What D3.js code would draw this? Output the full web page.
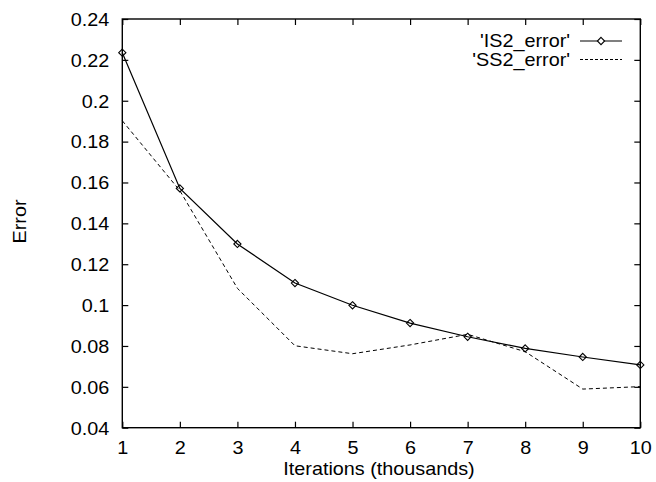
<!DOCTYPE html>
<html>
<head>
<meta charset="utf-8">
<script src="https://cdn.jsdelivr.net/npm/d3@7"></script>
<style>
    body { margin: 0; background: #fff; }
    svg { display: block; }
    text { font-family: "Liberation Sans", Arial, Helvetica, sans-serif; font-size: 18px; fill: #000; }
    .domain { display: none; }
    .tick line { stroke: #000; stroke-width: 1.2; }
</style>
</head>
<body>
<div id="chart"></div>
<script>
'use strict';

// Data
const iterations = [1, 2, 3, 4, 5, 6, 7, 8, 9, 10];
const is2Error = [0.2235, 0.1571, 0.1299, 0.1108, 0.0999, 0.0912, 0.0845, 0.0788, 0.0746, 0.0707];
const ss2Error = [0.1902, 0.1560, 0.1082, 0.0801, 0.0762, 0.0805, 0.0857, 0.0772, 0.0589, 0.0601];
const yTicks = [0.04, 0.06, 0.08, 0.1, 0.12, 0.14, 0.16, 0.18, 0.2, 0.22, 0.24];
const seriesNames = ["'IS2_error'", "'SS2_error'"];
const xTitle = 'Iterations (thousands)';
const yTitle = 'Error';

// Config
const svgW = 656;
const svgH = 482;
const plot = {left: 122.3, right: 640.3, top: 19, bottom: 427.7};
const sx = 1.1; // gnuplot's helvetica is a bit wider

const x = d3.scaleLinear().domain([1, 10]).range([plot.left, plot.right]);
const y = d3.scaleLinear().domain([0.04, 0.24]).range([plot.bottom, plot.top]);

const svg = d3.select('#chart').append('svg')
    .attr('width', svgW)
    .attr('height', svgH);

// Axes (ticks point inward, mirrored on top/right)
const gLeft = svg.append('g')
    .attr('transform', `translate(${plot.left},0)`)
    .call(d3.axisLeft(y).tickValues(yTicks).tickFormat(d => String(d)).tickSizeInner(-6).tickSizeOuter(0));
gLeft.selectAll('text')
    .attr('x', null)
    .attr('dy', '0.35em')
    .attr('transform', `translate(-13,0) scale(${sx},1)`);

const gBottom = svg.append('g')
    .attr('transform', `translate(0,${plot.bottom})`)
    .call(d3.axisBottom(x).tickValues(iterations).tickFormat(d3.format('d')).tickSizeInner(-6).tickSizeOuter(0));
gBottom.selectAll('text')
    .attr('y', null)
    .attr('dy', null)
    .attr('transform', `translate(0,26.6) scale(${sx},1)`);

svg.append('g')
    .attr('transform', `translate(${plot.right},0)`)
    .call(d3.axisRight(y).tickValues(yTicks).tickFormat('').tickSizeInner(-6).tickSizeOuter(0));
svg.append('g')
    .attr('transform', `translate(0,${plot.top})`)
    .call(d3.axisTop(x).tickValues(iterations).tickFormat('').tickSizeInner(-6).tickSizeOuter(0));

// Frame
svg.append('rect')
    .attr('x', plot.left)
    .attr('y', plot.top)
    .attr('width', plot.right - plot.left)
    .attr('height', plot.bottom - plot.top)
    .attr('fill', 'none')
    .attr('stroke', '#000')
    .attr('stroke-width', 1.4);

// Titles
svg.append('text')
    .attr('text-anchor', 'middle')
    .attr('transform', `translate(379,475) scale(${sx},1)`)
    .text(xTitle);
svg.append('text')
    .attr('text-anchor', 'middle')
    .attr('transform', `translate(26,221.5) rotate(-90) scale(${sx},1)`)
    .text(yTitle);

// Lines
const lineMaker = d3.line()
    .x((d, i) => x(iterations[i]))
    .y(d => y(d));

svg.append('path')
    .attr('d', lineMaker(ss2Error))
    .attr('fill', 'none')
    .attr('stroke', '#000')
    .attr('stroke-width', 1)
    .attr('stroke-dasharray', '4,3');

svg.append('path')
    .attr('d', lineMaker(is2Error))
    .attr('fill', 'none')
    .attr('stroke', '#000')
    .attr('stroke-width', 1.2);

const diamond = (cx, cy) => {
    const r = 3.6;
    return `M${cx},${cy - r}L${cx + r},${cy}L${cx},${cy + r}L${cx - r},${cy}Z`;
};

svg.append('g')
    .selectAll('path')
    .data(is2Error)
    .join('path')
    .attr('d', (d, i) => diamond(x(iterations[i]), y(d)))
    .attr('fill', 'none')
    .attr('stroke', '#000')
    .attr('stroke-width', 1.1);

// Legend
const legend = svg.append('g');
const rows = [41, 59.5];
rows.forEach((ry, i) => {
    legend.append('text')
        .attr('text-anchor', 'end')
        .attr('transform', `translate(570,${ry + 6.4}) scale(${sx},1)`)
        .text(seriesNames[i]);
    legend.append('line')
        .attr('x1', 580)
        .attr('x2', 622)
        .attr('y1', ry)
        .attr('y2', ry)
        .attr('stroke', '#000')
        .attr('stroke-width', i === 0 ? 1.2 : 1)
        .attr('stroke-dasharray', i === 0 ? null : '3,2');
});
legend.append('path')
    .attr('d', diamond(601, rows[0]))
    .attr('fill', '#fff')
    .attr('stroke', '#000')
    .attr('stroke-width', 1.1);
</script>
</body>
</html>
